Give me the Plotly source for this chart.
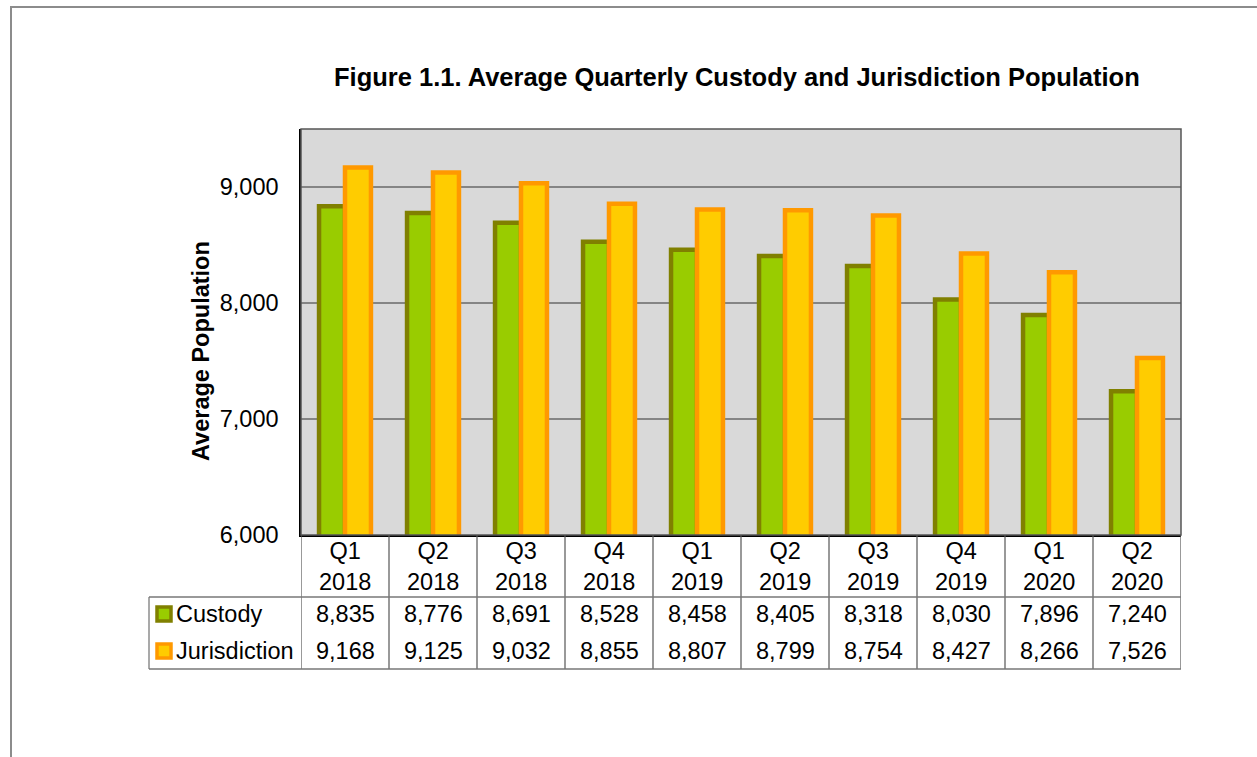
import plotly.graph_objects as go

# Quarterly averages
quarters = ["Q1 2018", "Q2 2018", "Q3 2018", "Q4 2018", "Q1 2019",
            "Q2 2019", "Q3 2019", "Q4 2019", "Q1 2020", "Q2 2020"]
custody = [8835, 8776, 8691, 8528, 8458, 8405, 8318, 8030, 7896, 7240]
jurisdiction = [9168, 9125, 9032, 8855, 8807, 8799, 8754, 8427, 8266, 7526]
y_ticks = [6000, 7000, 8000, 9000]

FONT = "Liberation Sans, Arial, sans-serif"
FS = 23.5
C_FILL, C_LINE = "#99CC00", "#808000"
J_FILL, J_LINE = "#FFCC00", "#FF9900"

fig = go.Figure()
fig.add_trace(go.Bar(x=quarters, y=custody, name="Custody",
                     marker=dict(color=C_FILL, line=dict(color=C_LINE, width=4.5))))
fig.add_trace(go.Bar(x=quarters, y=jurisdiction, name="Jurisdiction",
                     marker=dict(color=J_FILL, line=dict(color=J_LINE, width=4.5))))

# layout helpers: plot area spans 301..1181 px horizontally, 129..535 px vertically
W, H = 1257, 757
L, R, T, B = 301, 76, 129, 222
PW, PH = W - L - R, H - T - B


def px_x(px):
    return (px - L) / PW


def px_y(py):
    return (H - B - py) / PH


def label(x, y, text, xref="paper", xanchor="center", size=FS, angle=0):
    return dict(x=x, y=y, xref=xref, yref="paper", text=text, showarrow=False,
                xanchor=xanchor, yanchor="middle", textangle=angle,
                font=dict(size=size, color="black", family=FONT))


shapes = []
annotations = []

# outer chart frame
shapes.append(dict(type="rect", xref="paper", yref="paper",
                   x0=px_x(11), x1=px_x(1262), y0=px_y(765), y1=px_y(7),
                   line=dict(color="#8c8c8c", width=2), layer="below"))

# data table grid
row_top, row_mid, row_bot = 535, 597, 669
for i in range(len(quarters) + 1):
    shapes.append(dict(type="line", xref="x", yref="paper",
                       x0=i - 0.5, x1=i - 0.5, y0=px_y(row_bot), y1=px_y(row_top),
                       line=dict(color="#555555", width=1.2)))
shapes.append(dict(type="line", xref="paper", yref="paper",
                   x0=px_x(149), x1=px_x(149), y0=px_y(row_bot), y1=px_y(row_mid),
                   line=dict(color="#8c8c8c", width=1.5)))
for yy in (row_mid, row_bot):
    shapes.append(dict(type="line", xref="paper", yref="paper",
                       x0=px_x(149), x1=1, y0=px_y(yy), y1=px_y(yy),
                       line=dict(color="#777777", width=1.5)))

# category labels and values
for q, c, j in zip(quarters, custody, jurisdiction):
    annotations.append(label(q, px_y(566), q.replace(" ", "<br>"), xref="x"))
    annotations.append(label(q, px_y(614), f"{c:,}", xref="x"))
    annotations.append(label(q, px_y(651), f"{j:,}", xref="x"))

# legend keys inside the table
for name, fill, line, yc in (("Custody", C_FILL, C_LINE, 614),
                             ("Jurisdiction", J_FILL, J_LINE, 651)):
    shapes.append(dict(type="rect", xref="paper", yref="paper",
                       x0=px_x(157), x1=px_x(171), y0=px_y(yc + 7), y1=px_y(yc - 7),
                       fillcolor=fill, line=dict(color=line, width=3.5)))
    annotations.append(label(px_x(174), px_y(yc), name, xanchor="left"))

# title and y-axis title
annotations.append(label(px_x(737), px_y(77),
                         "<b>Figure 1.1. Average Quarterly Custody and Jurisdiction Population</b>",
                         size=25.5))
annotations.append(label(px_x(201), px_y(351), "<b>Average Population</b>", angle=-90))

fig.update_layout(
    width=W, height=H,
    margin=dict(l=L, r=R, t=T, b=B),
    paper_bgcolor="white",
    plot_bgcolor="#D9D9D9",
    barmode="group",
    bargap=0.41,
    bargroupgap=0,
    showlegend=False,
    shapes=shapes,
    annotations=annotations,
    font=dict(family=FONT, size=FS, color="black"),
)
fig.update_xaxes(showticklabels=False, ticks="", showgrid=False,
                 range=[-0.5, len(quarters) - 0.5],
                 showline=True, linecolor="black", linewidth=1.5, mirror=False)
fig.update_yaxes(range=[6000, 9500], tickvals=y_ticks, tickformat=",",
                 showgrid=True, gridcolor="#858585", gridwidth=2,
                 ticks="", ticklabelstandoff=16,
                 showline=True, linecolor="black", linewidth=1.5, zeroline=False,
                 tickfont=dict(size=FS, family=FONT))
# dark frame on the top and right of the plot area
fig.add_shape(type="rect", xref="paper", yref="paper", x0=0, x1=1, y0=0, y1=1,
              line=dict(color="#555555", width=1.5), layer="above")

fig.write_html("out.html")
